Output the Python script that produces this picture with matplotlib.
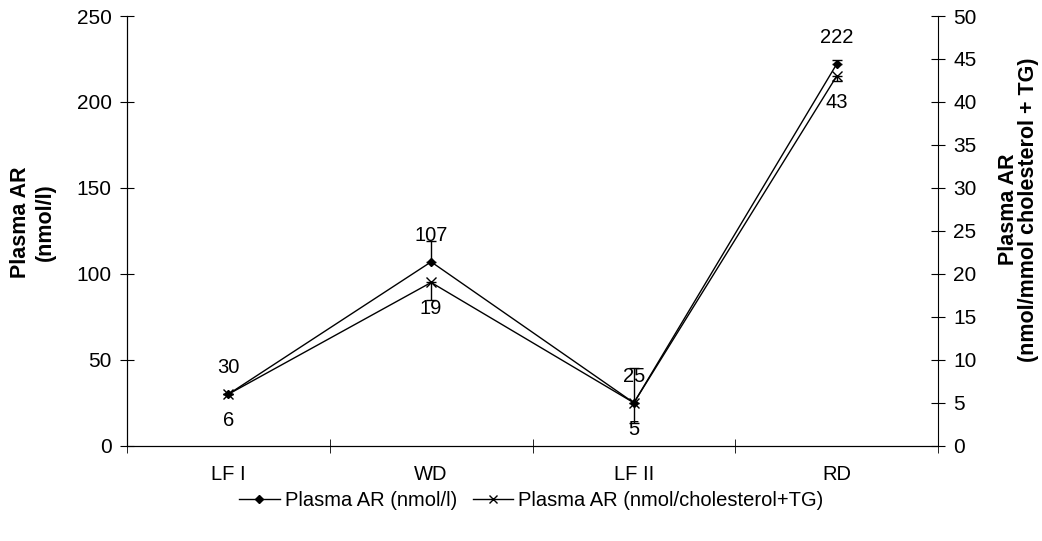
import numpy as np
import matplotlib.pyplot as plt
from matplotlib.lines import Line2D

plt.rcParams['font.family'] = ['Liberation Sans', 'DejaVu Sans']

categories = ["LF I", "WD", "LF II", "RD"]
ar_nmol = [30, 107, 25, 222]          # left axis
ar_nmol_err_up = [0, 12, 20, 2.5]
ar_ratio = [6, 19, 5, 43]             # right axis
ar_ratio_err_down = [0, 2, 2.3, 0.6]

x = np.arange(len(categories))

fig = plt.figure(figsize=(10.42, 5.41), dpi=100)
ax1 = fig.add_axes([0.1219, 0.176, 0.7783, 0.7944])
ax2 = ax1.twinx()

# series 1: diamonds, error bars upwards
ax1.errorbar(x, ar_nmol, yerr=[np.zeros(4), ar_nmol_err_up], color='black',
             marker='D', markersize=4.5, lw=1, elinewidth=1, capsize=3.5,
             capthick=1)
# series 2: crosses, error bars downwards
ax2.errorbar(x, ar_ratio, yerr=[ar_ratio_err_down, np.zeros(4)], color='black',
             marker='x', markersize=7, mew=1, lw=1, elinewidth=1, capsize=3.5,
             capthick=1)

for xi, v in zip(x, ar_nmol):
    ax1.annotate(str(v), (xi, v), xytext=(0, 19), textcoords='offset points',
                 ha='center', va='center', fontsize=14.5)
for xi, v in zip(x, ar_ratio):
    ax2.annotate(str(v), (xi, v), xytext=(0, -19), textcoords='offset points',
                 ha='center', va='center', fontsize=14.5)

ax1.set_xlim(-0.5, 3.5)
ax1.set_ylim(0, 250)
ax2.set_ylim(0, 50)
ax1.set_yticks(range(0, 251, 50))
ax2.set_yticks(range(0, 51, 5))

ax1.set_xticks(x)
ax1.set_xticklabels(categories)
ax1.tick_params(axis='x', which='major', length=0, pad=14, labelsize=14.5)
ax1.set_xticks([-0.5, 0.5, 1.5, 2.5, 3.5], minor=True)
ax1.tick_params(axis='x', which='minor', direction='inout', length=10)
ax1.tick_params(axis='y', direction='inout', length=10, labelsize=15, pad=6)
ax2.tick_params(axis='y', direction='inout', length=10, labelsize=15, pad=6)

for a in (ax1, ax2):
    a.spines['top'].set_visible(False)
ax1.spines['right'].set_visible(False)

ax1.set_ylabel("Plasma AR\n(nmol/l)", fontsize=15.5, fontweight='bold',
               va='center', linespacing=1.3)
ax1.yaxis.set_label_coords(-0.116, 0.52)
ax2.set_ylabel("Plasma AR\n(nmol/mmol cholesterol + TG)", fontsize=15.5,
               fontweight='bold', rotation=90, va='center', linespacing=0.95)
ax2.yaxis.set_label_coords(1.099, 0.55)

handles = [Line2D([], [], color='black', marker='D', markersize=4.5, lw=1),
           Line2D([], [], color='black', marker='x', markersize=6, lw=1)]
fig.legend(handles, ["Plasma AR (nmol/l)", "Plasma AR (nmol/cholesterol+TG)"],
           loc='center', bbox_to_anchor=(0.51, 0.074), ncol=2, frameon=False,
           fontsize=14.5, handlelength=2, handletextpad=0.25, columnspacing=0.8)

fig.savefig("out.png", dpi=100)
